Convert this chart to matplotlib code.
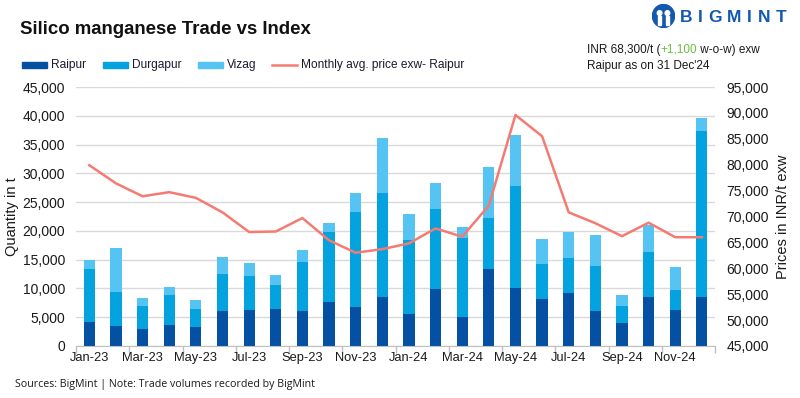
import matplotlib
matplotlib.use("Agg")
import matplotlib.pyplot as plt
import numpy as np
from matplotlib.patches import Rectangle, Circle
from matplotlib.lines import Line2D

months = ["Jan-23","Feb-23","Mar-23","Apr-23","May-23","Jun-23","Jul-23","Aug-23","Sep-23","Oct-23","Nov-23","Dec-23",
          "Jan-24","Feb-24","Mar-24","Apr-24","May-24","Jun-24","Jul-24","Aug-24","Sep-24","Oct-24","Nov-24","Dec-24"]
raipur = [4150, 3450, 2900, 3600, 3250, 6050, 6200, 6350, 6050, 7600, 6750, 8450,
          5500, 9850, 5000, 13350, 10050, 8100, 9150, 6050, 3950, 8450, 6200, 8450]
durgapur = [9200, 5900, 4000, 5200, 3150, 6400, 5900, 4200, 8500, 12150, 16500, 18100,
            12850, 13900, 13700, 8850, 17700, 6100, 6100, 7800, 2950, 7850, 3500, 28850]
vizag = [1600, 7650, 1400, 1400, 1550, 2950, 2250, 1750, 2100, 1550, 3300, 9550,
         4550, 4500, 1900, 8850, 8850, 4350, 4500, 5400, 1900, 4700, 4000, 2250]
price = [79900, 76400, 73900, 74700, 73600, 70800, 67000, 67100, 69700, 65400, 63000, 63700,
         64800, 67700, 66100, 72100, 89600, 85500, 70800, 68700, 66200, 68800, 66000, 66000]

c_raipur = "#0450A2"
c_durg = "#05A2E0"
c_vizag = "#56C4F2"
c_line = "#F47B72"
txtc = "#1a1a1a"

plt.rcParams['font.family'] = ['Liberation Sans', 'DejaVu Sans']

fig = plt.figure(figsize=(8, 3.98), dpi=100)
ax = fig.add_axes([0.095, 0.1307, 0.799, 0.6507])
x = np.arange(len(months))
w = 0.42
r = np.array(raipur); d = np.array(durgapur); v = np.array(vizag)
ax.bar(x, r, w, color=c_raipur, zorder=2)
ax.bar(x, d, w, bottom=r, color=c_durg, zorder=2)
ax.bar(x, v, w, bottom=r + d, color=c_vizag, zorder=2)
ax.set_xlim(-0.5, len(months) - 0.5)
ax.set_ylim(0, 45000)
ax.set_yticks(np.arange(0, 45001, 5000))
ax.set_yticklabels([f"{t:,}" for t in range(0, 45001, 5000)], fontsize=10, color=txtc)
ax.yaxis.grid(True, color="#D9D9D9", linewidth=1, zorder=0)
ax.set_axisbelow(True)
ax.tick_params(axis='y', length=0, pad=8)
ax.set_xticks(np.arange(-0.5, len(months), 2))
ax.set_xticklabels([])
ax.set_xticks(x[::2], minor=True)
ax.set_xticklabels(months[::2], minor=True, fontsize=9.3, color=txtc)
ax.tick_params(axis='x', which='major', length=5, color="#BFBFBF", width=1)
ax.tick_params(axis='x', which='minor', length=0, pad=4)
for s in ['top', 'right', 'left']:
    ax.spines[s].set_visible(False)
ax.spines['bottom'].set_color("#BFBFBF")
ax.set_ylabel("Quantity in t", fontsize=10.5, color=txtc, labelpad=2)

ax2 = ax.twinx()
ax2.plot(x, price, color=c_line, linewidth=1.8, zorder=3)
ax2.set_ylim(45000, 95000)
ax2.set_yticks(np.arange(45000, 95001, 5000))
ax2.set_yticklabels([f"{t:,}" for t in range(45000, 95001, 5000)], fontsize=10, color=txtc)
ax2.tick_params(axis='y', length=0, pad=8)
for s in ['top', 'right', 'left', 'bottom']:
    ax2.spines[s].set_visible(False)
ax2.set_ylabel("Prices in INR/t exw", fontsize=10.5, color=txtc, rotation=90, labelpad=5)

# Title
fig.text(20/800, 1 - 30/398, "Silico manganese Trade vs Index", fontsize=13.4, fontweight='bold',
         va='center', ha='left', color="#111111")

# Legend
ly = 1 - 65/398
items = [("Raipur", 22, c_raipur, 'patch'), ("Durgapur", 103, c_durg, 'patch'),
         ("Vizag", 198, c_vizag, 'patch'), ("Monthly avg. price exw- Raipur", 272, c_line, 'line')]
for label, px, col, kind in items:
    if kind == 'patch':
        fig.patches.append(Rectangle((px/800, ly - 3/398), 25/800, 6/398, transform=fig.transFigure,
                                     color=col, figure=fig))
    else:
        fig.lines.append(Line2D([px/800, (px+25)/800], [ly, ly], transform=fig.transFigure,
                                color=col, linewidth=1.8, figure=fig))
    fig.text((px + 29)/800, ly, label, fontsize=8.6, va='center', ha='left', color="#1a1a2e")

# Price note
fig.canvas.draw()
renderer = fig.canvas.get_renderer()
nx = 587/800
ny1 = 1 - 50/398
parts = [("INR 68,300/t (", txtc), ("+1,100", "#6CBF3F"), (" w-o-w) exw", txtc)]
cur = nx
for txt, col in parts:
    t = fig.text(cur, ny1, txt, fontsize=8.5, va='center', ha='left', color=col)
    bb = t.get_window_extent(renderer)
    cur = cur + bb.width / fig.bbox.width
fig.text(nx, 1 - 66/398, "Raipur as on 31 Dec'24", fontsize=8.5, va='center', ha='left', color=txtc)

# Logo
logo_ax = fig.add_axes([652/800, 1 - 28/398, 23/800, 24/398])
logo_ax.set_xlim(0, 1); logo_ax.set_ylim(0, 1); logo_ax.axis('off')
logo_ax.add_patch(Circle((0.5, 0.5), 0.48, color="#1458B0"))
logo_ax.add_patch(Circle((0.33, 0.62), 0.1, color="white"))
logo_ax.add_patch(Circle((0.67, 0.62), 0.1, color="white"))
logo_ax.add_patch(Rectangle((0.25, 0.12), 0.14, 0.38, color="white"))
logo_ax.add_patch(Rectangle((0.61, 0.12), 0.14, 0.38, color="white"))
logo_letters = "BIGMINT"
lx = 680
for ch in logo_letters:
    t = fig.text(lx/800, 1 - 17/398, ch, fontsize=12.5, fontweight='bold', color="#1458B0",
                 va='center', ha='left')
    bb = t.get_window_extent(renderer)
    lx += bb.width + 5.5

# Source
fig.text(15/800, 1 - 384/398, "Sources: BigMint | Note: Trade volumes recorded by BigMint",
         fontsize=7.65, va='center', ha='left', color=txtc, family=['Open Sans', 'DejaVu Sans'])

fig.savefig("out.png", dpi=100)
